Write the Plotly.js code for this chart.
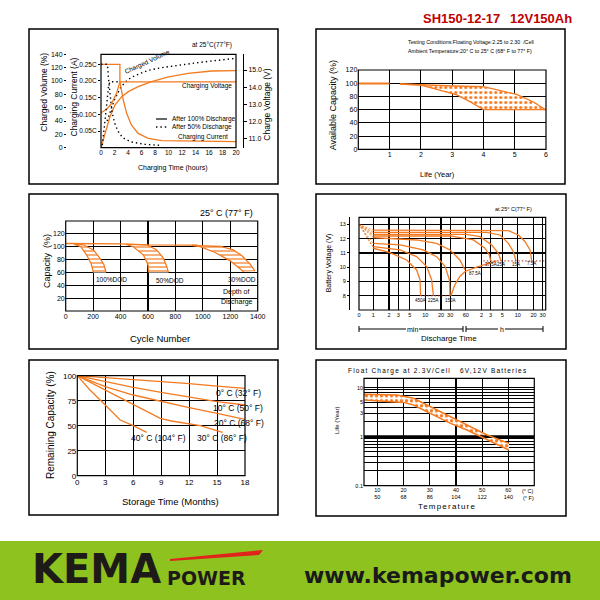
<!DOCTYPE html>
<html><head><meta charset="utf-8">
<script src="https://cdn.plot.ly/plotly-3.0.1.min.js"></script>
<style>html,body{margin:0;padding:0;background:#fff}#chart{width:600px;height:600px}</style>
</head><body><div id="chart"></div>
<script>
// ---------- Panel 1: charging characteristics ----------
const chgHours      = [0, 2.8, 2.8, 3.3, 3.8, 4.5, 5.5, 7, 9, 20];
const chgCurrent100 = [0.25, 0.25, 0.198, 0.143, 0.103, 0.068, 0.043, 0.028, 0.021, 0.018];
const voltHours     = [0, 0.84, 1.58, 2.3, 2.8, 20];
const chgVoltage100 = [12.5, 12.7, 13.05, 13.63, 14.31, 14.31];
const volHours      = [0, 0.6, 1.33, 2.07, 3.06, 4.05, 5.5, 7.5, 10, 12.9, 16.4, 20];
const chgVolume100  = [0, 21.6, 46.5, 64, 76.5, 84, 91.4, 99, 106, 111.5, 115, 115.4];
const cur50Hours    = [0, 0.95, 1.1, 1.3, 1.6, 2.0, 2.5, 3.2, 4.5, 6.5, 9];
const chgCurrent50  = [0.25, 0.25, 0.21, 0.16, 0.11, 0.075, 0.05, 0.03, 0.017, 0.01, 0.007];
const volt50Hours   = [0.2, 0.5, 0.8, 1.1, 1.3, 2.8];
const chgVoltage50  = [10.6, 11.6, 12.8, 14.0, 14.31, 14.31];
const vol50Hours    = [0.9, 1.4, 2, 3, 4, 5, 7, 9, 11.5, 14, 16.4, 20];
const chgVolume50   = [40, 56, 72, 92, 102, 108, 116, 120, 124, 127, 130, 134];
const chgTimeTicks  = [0, 2, 4, 6, 8, 10, 12, 14, 16, 18, 20];
const volumeTicks   = [0, 20, 40, 60, 80, 100, 120, 140];
const currentTicks  = [0.05, 0.10, 0.15, 0.20, 0.25];
const currentLabels = ['0.05C', '0.10C', '0.15C', '0.20C', '0.25C'];
const voltageTicks  = [11, 12, 13, 14, 15];
const voltageLabels = ['11.0', '12.0', '13.0', '14.0', '15.0'];

// ---------- Panel 2: float life ----------
const lifeFlatYears  = [0, 1];
const lifeFlatCap    = [99.5, 99.5];
const lifeUpperYears = [1.33, 2, 3.04, 4, 4.5, 5.06, 5.6, 6];
const lifeUpperCap   = [98.8, 97.3, 95.8, 94.8, 89.7, 83.2, 71.6, 59.5];
const lifeLowerYears = [1.33, 2, 2.6, 3.15, 3.57, 3.94, 4, 6];
const lifeLowerCap   = [98.8, 97.3, 89.7, 82.2, 72.1, 62, 60, 60];
const lifeYearTicks  = [1, 2, 3, 4, 5, 6];

// ---------- Panel 3: cycle life ----------
const dodTopCycles   = [0, 400, 600, 960];
const dodTopCap      = [105, 104.5, 103, 102.5];
const dod100InCyc    = [60, 110, 153, 185, 202];
const dod100InCap    = [104, 100, 87, 74, 60];
const dod100OutCyc   = [60, 129, 202, 250, 279, 294];
const dod100OutCap   = [104, 103, 95, 82, 72, 60];
const dod50InCyc     = [440, 493, 567, 600, 606];
const dod50InCap     = [103.5, 100, 87, 72, 60];
const dod50OutCyc    = [440, 591, 664, 713, 737, 749];
const dod50OutCap    = [103.5, 103, 95, 82, 69, 60];
const dod30InCyc     = [920, 980, 1090, 1200, 1297];
const dod30InCap     = [102, 100, 91, 78, 61];
const dod30OutCyc    = [920, 1130, 1222, 1285, 1345, 1380];
const dod30OutCap    = [102, 100.5, 95, 86, 73, 62];
const cycleTicks     = [0, 200, 400, 600, 800, 1000, 1200, 1400];
const cycCapTicks    = [0, 20, 40, 60, 80, 100, 120, 140];
const cycCapLabels   = ['', '20', '40', '60', '80', '100', '120', ''];

// ---------- Panel 4: discharge curves (minutes, volts) ----------
const dis7_5Min  = [1, 100, 395, 614, 826, 1030, 1110];
const dis7_5V    = [12.6, 12.6, 12.56, 12.26, 11.79, 11.21, 10.45];
const dis15Min   = [1, 151, 273, 395, 491, 555];
const dis15V     = [12.44, 12.44, 12.26, 11.67, 11.09, 10.44];
const dis25Min   = [1, 62, 112, 189, 253, 285];
const dis25V     = [12.3, 12.3, 12.14, 11.56, 10.98, 10.44];
const dis37_5Min = [1, 30, 84, 140, 170, 180];
const dis37_5V   = [12.19, 12.19, 11.91, 11.33, 10.86, 10.44];
const dis87_5Min = [1, 2.4, 6.8, 16.5, 29.8, 46, 58];
const dis87_5V   = [12.07, 12.02, 11.91, 11.67, 11.21, 10.51, 9.81];
const dis150Min  = [1, 3.26, 9.1, 16.5, 24, 29, 29.8];
const dis150V    = [11.67, 11.56, 11.21, 10.74, 10.05, 9.12, 8.0];
const dis225Min  = [1, 3.26, 6.8, 10.6, 13.2, 14.3];
const dis225V    = [11.44, 11.21, 10.74, 10.05, 9.12, 8.0];
const dis450Min  = [1, 2.09, 4.37, 6.8, 7.9, 8.1];
const dis450V    = [11.33, 11.02, 10.51, 9.81, 9.12, 8.0];
const dischargeLabels = ['7.5A', '15A', '25A', '37.5A', '87.5A', '150A', '225A', '450A'];
const envelopeMin = [31, 37, 46, 58, 97, 175, 235];
const envelopeV   = [8.0, 8.77, 9.35, 9.70, 10.0, 10.28, 10.44];
const cutoffHighMin = [130, 2060];
const cutoffHighV   = [10.44, 10.44];
const cutoffLowMin  = [8.1, 29.8];
const cutoffLowV    = [8.0, 8.0];
const disStartV     = 13.0;
const disTimeTicks  = [0.53, 1, 2, 3, 5, 10, 20, 30, 60, 120, 180, 300, 600, 1200, 1800];
const disTimeLabels = ['0', '1', '2', '3', '5', '10', '20', '30', '60', '2', '3', '5', '10', '20', '30'];
const disVoltTicks  = [8, 9, 10, 11, 12, 13];

// ---------- Panel 5: self discharge ----------
const storageMonths = [0, 3, 6, 9, 12, 15, 18];
const cap0C   = [100, 98, 96.5, 94.5, 92, 89.5, 87.3];
const cap10C  = [100, 94, 88.3, 83.3, 78.3, 74, 70.7];
const cap20C  = [100, 89, 80.7, 74, 68, 62.3, 56.3];
const months30C = [0, 3, 6, 8.9, 10.1, 13.2, 15.6];
const cap30C    = [100, 85.7, 70.7, 57.3, 54.7, 50, 43.3];
const months40C = [0, 1.36, 3, 4.6, 6, 7.45];
const cap40C    = [100, 85.7, 70.7, 55.7, 50, 43.3];
const storageTicks = [0, 3, 6, 9, 12, 15, 18];
const remainTicks  = [0, 25, 50, 75, 100];

// ---------- Panel 6: float life vs temperature ----------
const floatUpperC = [4.9, 17.4, 23.8, 30.2, 37.9, 44.2, 51.9, 60.2];
const floatUpperY = [7.3, 7.1, 6.06, 4.1, 2.56, 1.73, 1.08, 0.73];
const floatLowerC = [4.9, 13.6, 20, 23.8, 30.2, 37.9, 44.2, 51.9, 60.2];
const floatLowerY = [5.6, 5.35, 5.0, 4.43, 2.99, 1.87, 1.37, 0.855, 0.534];
const tempCTicks  = [10, 20, 30, 40, 50, 60];
const tempFLabels = ['50', '68', '86', '104', '122', '140'];
const lifeLogTicks  = [0.1,0.2,0.3,0.4,0.5,0.6,0.7,0.8,0.9,1,2,3,4,5,6,7,8,9,10];
const lifeLogLabels = ['0.1','','','','','','','','','1','','3','','5','','','','','10'];
const tempRange = [4.9, 69.9];

// ---------- helpers ----------
const W = 600, H = 600;
const px = v => v / W;
const py = v => 1 - v / H;
const ORANGE = '#F47A20';
const DOTRED = '#9E2A2B';
const FONT = 'Liberation Sans, Arial, sans-serif';
const BLACK = '#000';

function ax(extra) {
  return Object.assign({
    showgrid: true, gridcolor: BLACK, gridwidth: 1.1, zeroline: false,
    showline: false, ticks: '', fixedrange: true,
    tickfont: {family: FONT, size: 7, color: BLACK}
  }, extra);
}
function line(x, y, xa, ya, opts) {
  return Object.assign({x: x, y: y, xaxis: xa, yaxis: ya, mode: 'lines', hoverinfo: 'skip',
    line: {color: ORANGE, width: 1.3}}, opts || {});
}
function band(xIn, yIn, xOut, yOut, xa, ya, pattern) {
  const xs = xIn.concat(xOut.slice().reverse());
  const ys = yIn.concat(yOut.slice().reverse());
  return {x: xs, y: ys, xaxis: xa, yaxis: ya, mode: 'lines', fill: 'toself', hoverinfo: 'skip',
    line: {width: 0, color: 'rgba(0,0,0,0)'}, fillcolor: 'rgba(255,255,255,0)',
    fillpattern: pattern};
}
function txt(x, y, text, size, opts) {
  return Object.assign({xref: 'paper', yref: 'paper', x: px(x), y: py(y), text: text, showarrow: false,
    font: {family: FONT, size: size, color: BLACK}, xanchor: 'center', yanchor: 'middle'}, opts || {});
}
function frame(xa, ya) {
  return {type: 'rect', xref: xa + ' domain', yref: ya + ' domain', x0: 0, x1: 1, y0: 0, y1: 1,
    line: {color: BLACK, width: 1.2}, layer: 'above'};
}
function box(x0, y0, x1, y1) {
  return {type: 'rect', xref: 'paper', yref: 'paper', x0: px(x0), x1: px(x1), y0: py(y1), y1: py(y0),
    line: {color: BLACK, width: 1.5}};
}
function pline(x0, y0, x1, y1, color, width, dash) {
  return {type: 'line', xref: 'paper', yref: 'paper', x0: px(x0), x1: px(x1), y0: py(y0), y1: py(y1),
    line: {color: color, width: width, dash: dash || 'solid'}};
}

const traces = [];
const DOT = {color: BLACK, width: 1.4, dash: '1.4px,3px'};

// Panel 1
traces.push(line(chgHours, chgCurrent100, 'x', 'y2'));
traces.push(line(voltHours, chgVoltage100, 'x', 'y3'));
traces.push(line(volHours, chgVolume100, 'x', 'y'));
traces.push(line(cur50Hours, chgCurrent50, 'x', 'y2', {line: DOT}));
traces.push(line(volt50Hours, chgVoltage50, 'x', 'y3', {line: DOT}));
traces.push(line(vol50Hours, chgVolume50, 'x', 'y', {line: DOT}));

// Panel 2
traces.push(band(lifeUpperYears, lifeUpperCap, lifeLowerYears, lifeLowerCap, 'x2', 'y4',
  {shape: '.', fgcolor: ORANGE, bgcolor: '#fff', size: 5, solidity: 0.3}));
traces.push(line(lifeFlatYears, lifeFlatCap, 'x2', 'y4', {line: {color: ORANGE, width: 2}}));
traces.push(line(lifeUpperYears, lifeUpperCap, 'x2', 'y4'));
traces.push(line(lifeLowerYears, lifeLowerCap, 'x2', 'y4'));

// Panel 3
const hatch = {shape: '-', fgcolor: ORANGE, bgcolor: '#fff', size: 4, solidity: 0.3};
[[dod100InCyc, dod100InCap, dod100OutCyc, dod100OutCap],
 [dod50InCyc, dod50InCap, dod50OutCyc, dod50OutCap],
 [dod30InCyc, dod30InCap, dod30OutCyc, dod30OutCap]].forEach(b => {
  traces.push(band(b[0], b[1], b[2], b[3], 'x3', 'y5', hatch));
  traces.push(line(b[0], b[1], 'x3', 'y5'));
  traces.push(line(b[2], b[3], 'x3', 'y5'));
});
traces.push(line(dodTopCycles, dodTopCap, 'x3', 'y5'));

// Panel 4
const disCurves = [[dis7_5Min, dis7_5V], [dis15Min, dis15V], [dis25Min, dis25V], [dis37_5Min, dis37_5V],
  [dis87_5Min, dis87_5V], [dis150Min, dis150V], [dis225Min, dis225V], [dis450Min, dis450V]];
disCurves.forEach(c => {
  traces.push(line([disTimeTicks[0], c[0][0]], [disStartV, c[1][0]], 'x4', 'y6',
    {line: {color: ORANGE, width: 0.8, dash: '2px,1.5px'}}));
  traces.push(line(c[0], c[1], 'x4', 'y6'));
});
traces.push(line(envelopeMin, envelopeV, 'x4', 'y6'));
traces.push(line(cutoffHighMin, cutoffHighV, 'x4', 'y6', {line: {color: DOTRED, width: 1, dash: '1.5px,2px'}}));
traces.push(line(cutoffLowMin, cutoffLowV, 'x4', 'y6', {line: {color: DOTRED, width: 1, dash: '1.5px,2px'}}));

// Panel 5
traces.push(line(storageMonths, cap0C, 'x5', 'y7'));
traces.push(line(storageMonths, cap10C, 'x5', 'y7'));
traces.push(line(storageMonths, cap20C, 'x5', 'y7'));
traces.push(line(months30C, cap30C, 'x5', 'y7'));
traces.push(line(months40C, cap40C, 'x5', 'y7'));

// Panel 6
traces.push(band(floatUpperC, floatUpperY, floatLowerC, floatLowerY, 'x6', 'y8',
  {shape: '.', fgcolor: ORANGE, bgcolor: '#fff', size: 5, solidity: 0.35}));
traces.push(line(tempRange, [1, 1], 'x6', 'y8', {line: {color: BLACK, width: 2.6}}));
traces.push(line(floatUpperC, floatUpperY, 'x6', 'y8', {line: {color: ORANGE, width: 1.5}}));
traces.push(line(floatLowerC, floatLowerY, 'x6', 'y8', {line: {color: ORANGE, width: 1.5}}));

// ---------- layout ----------
const TITLEFONT = {family: 'Liberation Sans, Arial', size: 13, color: '#C00000'};
const layout = {
  width: W, height: H, margin: {l: 0, r: 0, t: 0, b: 0},
  paper_bgcolor: '#fff', plot_bgcolor: 'rgba(0,0,0,0)', showlegend: false,
  font: {family: FONT, color: BLACK},
  // Panel 1
  xaxis: ax({domain: [px(101), px(236)], anchor: 'y', range: [0, 20], tickvals: chgTimeTicks,
    showgrid: false, tickfont: {family: FONT, size: 6.5, color: BLACK}}),
  yaxis: ax({domain: [py(147.7), py(54.3)], anchor: 'free', position: px(66), range: [0, 140],
    tickvals: volumeTicks, showgrid: false, ticks: 'outside', ticklen: 2, tickcolor: BLACK}),
  yaxis2: ax({overlaying: 'y', anchor: 'x', side: 'left', range: [0, 0.28], tickvals: currentTicks,
    ticktext: currentLabels, showgrid: false, ticks: 'outside', ticklen: 2, tickcolor: BLACK,
    tickfont: {family: FONT, size: 6.5, color: BLACK}}),
  yaxis3: ax({overlaying: 'y', anchor: 'free', position: px(243), side: 'right', range: [10.45, 15.92],
    tickvals: voltageTicks, ticktext: voltageLabels, showgrid: false, showline: true, linecolor: BLACK,
    ticks: 'outside', ticklen: 3, tickcolor: BLACK}),
  // Panel 2
  xaxis2: ax({domain: [px(358.3), px(546)], anchor: 'y4', range: [0, 6], tickvals: lifeYearTicks}),
  yaxis4: ax({domain: [py(149.3), py(70)], anchor: 'x2', range: [0, 120], dtick: 20}),
  // Panel 3
  xaxis3: ax({domain: [px(65.7), px(257.7)], anchor: 'y5', range: [0, 1400], tickvals: cycleTicks}),
  yaxis5: ax({domain: [py(311), py(221)], anchor: 'x3', range: [0, 140], tickvals: cycCapTicks, ticktext: cycCapLabels}),
  // Panel 4
  xaxis4: ax({domain: [px(359), px(545.7)], anchor: 'y6', type: 'log',
    range: [Math.log10(0.53), Math.log10(2060)], tickvals: disTimeTicks, ticktext: disTimeLabels,
    tickfont: {family: FONT, size: 5.5, color: BLACK}}),
  yaxis6: ax({domain: [py(310), py(217.3)], anchor: 'free', position: px(349), range: [7, 13.5],
    tickvals: disVoltTicks, showline: true, linecolor: BLACK, ticks: 'outside', ticklen: 2, tickcolor: BLACK,
    tickfont: {family: FONT, size: 5.5, color: BLACK}}),
  // Panel 5
  xaxis5: ax({domain: [px(77.3), px(245)], anchor: 'y7', range: [0, 18], tickvals: storageTicks,
    tickfont: {family: FONT, size: 8, color: BLACK}}),
  yaxis7: ax({domain: [py(475.7), py(375.7)], anchor: 'x5', range: [0, 100], tickvals: remainTicks,
    tickfont: {family: FONT, size: 8, color: BLACK}}),
  // Panel 6
  xaxis6: ax({domain: [px(364), px(534.3)], anchor: 'y8', range: tempRange, tickvals: tempCTicks,
    ticktext: tempCTicks.map((c, i) => c + '<br>' + tempFLabels[i]),
    tickfont: {family: FONT, size: 5.5, color: BLACK}}),
  yaxis8: ax({domain: [py(485.7), py(378.3)], anchor: 'x6', type: 'log', range: [-1, 1.19],
    tickvals: lifeLogTicks, ticktext: lifeLogLabels, tickfont: {family: FONT, size: 5.5, color: BLACK}}),
  shapes: [
    box(29, 29, 278, 184), box(316, 29, 565, 184),
    box(29, 194, 278, 349), box(316, 194, 566, 349),
    box(29, 360, 278, 515), box(316, 360, 566, 516),
    frame('x', 'y'), frame('x2', 'y4'), frame('x3', 'y5'), frame('x4', 'y6'), frame('x5', 'y7'), frame('x6', 'y8'),
    // panel 1 legend samples
    pline(156, 119, 167, 119, BLACK, 1.2),
    pline(156, 127, 167, 127, BLACK, 1.4, '1.4px,3px'),
    // panel 4 min / h brackets
    pline(359, 329, 406, 329, BLACK, 1), pline(419, 329, 463, 329, BLACK, 1),
    pline(359, 326, 359, 332, BLACK, 1), pline(463, 326, 463, 332, BLACK, 1),
    pline(466, 329, 498, 329, BLACK, 1), pline(505, 329, 543, 329, BLACK, 1),
    pline(466, 326, 466, 332, BLACK, 1), pline(543, 326, 543, 332, BLACK, 1),
    // banner
    {type: 'rect', xref: 'paper', yref: 'paper', x0: 0, x1: 1, y0: 0, y1: py(541), line: {width: 0}, fillcolor: '#8DC21F'},
    {type: 'path', xref: 'paper', yref: 'paper', line: {width: 0}, fillcolor: '#E0231B',
      path: 'M ' + px(170) + ' ' + py(559) + ' L ' + px(263) + ' ' + py(550) + ' L ' + px(259) + ' ' + py(555) + ' L ' + px(170) + ' ' + py(561) + ' Z'}
  ],
  annotations: [
    txt(421, 19, '<b>SH150-12-17</b>', 13, {xanchor: 'left', font: TITLEFONT}),
    txt(508, 19, '<b>12V150Ah</b>', 13, {xanchor: 'left', font: TITLEFONT}),
    // Panel 1
    txt(43.7, 92, 'Charged Volume (%)', 8.5, {textangle: -90}),
    txt(73.5, 97, 'Charging Current (A)', 8.5, {textangle: -90}),
    txt(266.7, 105, 'Charge Voltage (V)', 8.5, {textangle: -90}),
    txt(173, 168, 'Charging Time (hours)', 7),
    txt(212, 44.5, 'at 25°C(77°F)', 6.5),
    txt(147, 62, 'Charged Volume', 6.5, {textangle: -25}),
    txt(207, 86, 'Charging Voltage', 6.5),
    txt(170, 119, 'After 100% Discharge', 6.5, {xanchor: 'left'}),
    txt(170, 127, 'After 50% Discharge', 6.5, {xanchor: 'left'}),
    txt(203, 137.5, 'Charging Current', 6.5),
    // Panel 2
    txt(406, 42, 'Testing Conditions:Floating Voltage:2.25 to 2.30  /Cell', 5.3, {xanchor: 'left'}),
    txt(406, 51, 'Ambient Temperature:20° C to 25° C (68° F to 77° F)', 5.3, {xanchor: 'left'}),
    txt(333.3, 105, 'Available Capacity (%)', 9, {textangle: -90}),
    txt(437.3, 174, 'Life (Year)', 7.5),
    // Panel 3
    txt(47, 261, 'Capacity  (%)', 9, {textangle: -90}),
    txt(160, 338, 'Cycle Number', 9.5),
    txt(226.7, 213.3, '25° C (77° F)', 9),
    txt(111, 279, '100%DOD', 6.5),
    txt(170, 280, '50%DOD', 6.5),
    txt(241.7, 279, '30%DOD', 6.5),
    txt(236, 292.3, 'Depth of', 7),
    txt(237, 302.3, 'Discharge', 7),
    // Panel 4
    txt(513, 209.3, 'at 25° C(77° F)', 5.5),
    txt(329, 263.3, 'Battery Voltage (V)', 7, {textangle: -90}),
    txt(412.5, 329, 'min', 7),
    txt(501.5, 329, 'h', 7),
    txt(449, 338.3, 'Discharge Time', 8),
    // Panel 5
    txt(50, 425, 'Remaining Capacity (%)', 10, {textangle: -90}),
    txt(170.8, 501, 'Storage Time (Months)', 9.5),
    txt(238, 393.3, '0° C (32° F)', 8.5),
    txt(237.5, 408.3, '10° C (50° F)', 8.5),
    txt(239, 423.3, '20° C (68° F)', 8.5),
    txt(222, 438.3, '30° C (86° F)', 8.5),
    txt(158.3, 438.3, '40° C (104° F)', 8.5),
    // Panel 6
    txt(437.3, 371, '<span style="letter-spacing:1.2px">Float Charge at 2.3V/Cell   6V,12V Batteries</span>', 6.5),
    txt(337, 421, 'Life (Year)', 6, {textangle: -90}),
    txt(446.7, 506.7, '<span style="letter-spacing:1.2px">Temperature</span>', 8),
    txt(528, 491, '(° C)', 5.5),
    txt(528, 498.3, '(° F)', 5.5),
    // banner
    txt(30, 569, '<b>KEMA</b>', 40, {xanchor: 'left', font: {family: 'DejaVu Sans', size: 40, color: '#1E1A17'}}),
    txt(165, 577.5, '<b>POWER</b>', 19, {xanchor: 'left', font: {family: 'DejaVu Sans', size: 19, color: '#1E1A17'}}),
    txt(302, 575, '<b>www.kemapower.com</b>', 22, {xanchor: 'left', font: {family: 'DejaVu Sans', size: 22, color: '#1A1A1A'}})
  ]
};

// discharge current labels on panel 4
disCurves.forEach((c, i) => {
  const n = c[0].length - 1;
  const endX = c[0][n], endY = c[1][n];
  const isLow = endY < 9;
  const left = dischargeLabels[i] === '87.5A';
  layout.annotations.push({xref: 'x4', yref: 'y6', x: Math.log10(endX) + (left ? 0.03 : 0),
    y: endY - (isLow ? 0.35 : 0.22), text: dischargeLabels[i], showarrow: false,
    xanchor: left ? 'left' : 'center', yanchor: 'middle', font: {family: FONT, size: 4.5, color: BLACK}});
});

Plotly.newPlot('chart', traces, layout, {staticPlot: true, displayModeBar: false});
</script></body></html>
